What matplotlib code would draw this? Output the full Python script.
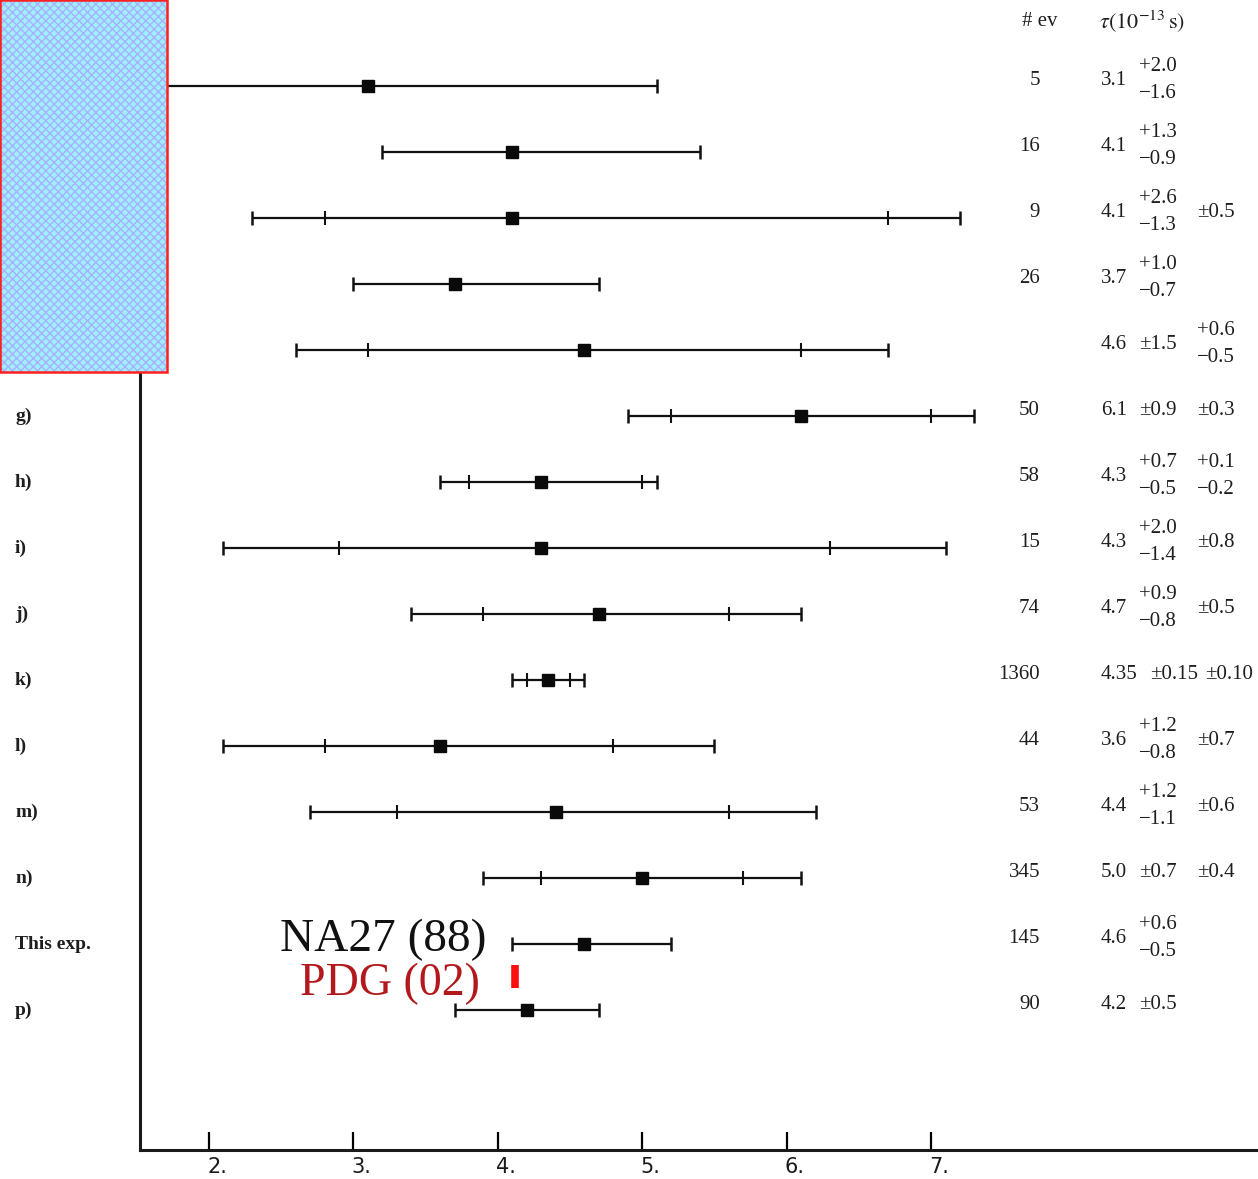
import matplotlib
matplotlib.use('Agg')
import matplotlib.pyplot as plt
from matplotlib.patches import Rectangle
from matplotlib.transforms import blended_transform_factory, ScaledTranslation

# ---------------- data ----------------
row_labels = ['b)', 'c)', 'd)', 'e)', 'f)', 'g)', 'h)', 'i)', 'j)', 'k)',
              'l)', 'm)', 'n)', 'This exp.', 'p)']
n_events = ['5', '16', '9', '26', '', '50', '58', '15', '74', '1360',
            '44', '53', '345', '145', '90']
tau_text = ['3.1', '4.1', '4.1', '3.7', '4.6', '6.1', '4.3', '4.3', '4.7',
            '4.35', '3.6', '4.4', '5.0', '4.6', '4.2']
tau = [3.1, 4.1, 4.1, 3.7, 4.6, 6.1, 4.3, 4.3, 4.7, 4.35, 3.6, 4.4, 5.0, 4.6, 4.2]
stat_lo = [1.6, 0.9, 1.3, 0.7, 1.5, 0.9, 0.5, 1.4, 0.8, 0.15, 0.8, 1.1, 0.7, 0.5, 0.5]
stat_hi = [2.0, 1.3, 2.6, 1.0, 1.5, 0.9, 0.7, 2.0, 0.9, 0.15, 1.2, 1.2, 0.7, 0.6, 0.5]
syst_lo = [0, 0, 0.5, 0, 0.5, 0.3, 0.2, 0.8, 0.5, 0.10, 0.7, 0.6, 0.4, 0, 0]
syst_hi = [0, 0, 0.5, 0, 0.6, 0.3, 0.1, 0.8, 0.5, 0.10, 0.7, 0.6, 0.4, 0, 0]
xticks = [2, 3, 4, 5, 6, 7]
xtick_labels = ['2.', '3.', '4.', '5.', '6.', '7.']
pdg_tau = 4.12
na27_label = 'NA27 (88)'
pdg_label = 'PDG (02)'
header_ev = '# ev'
header_tau = r'$\tau(10^{-13}\,\mathrm{s})$'

# ---------------- figure ----------------
W, H = 1258, 1179
plt.rcParams['mathtext.fontset'] = 'stix'
fig = plt.figure(figsize=(W / 100, H / 100), dpi=100)
ax = fig.add_axes([140 / W, 29 / H, 1118 / W, 1150 / H])
ax.set_xlim(1.522, 9.264)
ax.set_ylim(16.12, -1.303)

for s in ['top', 'right']:
    ax.spines[s].set_visible(False)
for s in ['left', 'bottom']:
    ax.spines[s].set_linewidth(2.2)
    ax.spines[s].set_color('#1a1a1a')
ax.set_yticks([])
ax.set_xticks(xticks)
ax.set_xticklabels(xtick_labels, fontsize=15, family='DejaVu Sans', color='#1a1a1a')
ax.tick_params(axis='x', direction='in', length=13, width=1.6, pad=5)
for lab in ax.get_xticklabels():
    lab.set_transform(lab.get_transform() + ScaledTranslation(8 / 100, 0, fig.dpi_scale_trans))

serif = ['Liberation Serif', 'DejaVu Serif']
tr = blended_transform_factory(fig.transFigure, ax.transData)
tcol = '#1e1e1e'
tfs = 15

def fmt(v, nd):
    return ('{:.%df}' % nd).format(v)

def put(px, y, s, ha='left', fs=tfs, **kw):
    ax.text(px / W, y, s, transform=tr, ha=ha, va='center', fontsize=fs,
            family=serif, color=tcol, **kw)

for i in range(len(tau)):
    y = i
    tlo = stat_lo[i] + syst_lo[i]
    thi = stat_hi[i] + syst_hi[i]
    ax.errorbar([tau[i]], [y], xerr=[[tlo], [thi]], fmt='none', ecolor='#111111',
                elinewidth=1.6, capsize=4.8, capthick=1.8, zorder=3)
    if syst_lo[i] > 0 or syst_hi[i] > 0:
        ax.errorbar([tau[i]], [y], xerr=[[stat_lo[i]], [stat_hi[i]]], fmt='none',
                    ecolor='#111111', elinewidth=0, capsize=4.8, capthick=1.5, zorder=3)
    ax.plot([tau[i]], [y], 's', color='#0a0a0a', ms=8.5, zorder=4)

    # row label
    put(15, y, row_labels[i], fs=14, fontweight='bold')

    # right-hand table
    ty = y - 0.09
    nd = len(tau_text[i]) - 2
    long_val = nd > 1
    if n_events[i]:
        put(1040, ty, n_events[i], ha='right')
    put(1101, ty, tau_text[i])
    sx = 1150 if long_val else 1139
    if abs(stat_lo[i] - stat_hi[i]) < 1e-9:
        put(sx, ty, '\u00b1' + fmt(stat_hi[i], nd))
    else:
        put(sx, ty - 0.2, '+' + fmt(stat_hi[i], nd))
        put(sx, ty + 0.21, '\u2212' + fmt(stat_lo[i], nd))
    if syst_lo[i] > 0 or syst_hi[i] > 0:
        yx = 1205 if long_val else 1197
        if abs(syst_lo[i] - syst_hi[i]) < 1e-9:
            put(yx, ty, '\u00b1' + fmt(syst_hi[i], nd))
        else:
            put(yx, ty - 0.2, '+' + fmt(syst_hi[i], nd))
            put(yx, ty + 0.21, '\u2212' + fmt(syst_lo[i], nd))

# headers
put(1040, -0.97, header_ev, ha='center', fs=15)
ax.text(1099 / W, -0.97, header_tau, transform=tr, ha='left', va='center',
        fontsize=16, color=tcol)

# NA27 / PDG labels
ax.text(487 / W, 12.93, na27_label, transform=tr, ha='right', va='center',
        fontsize=34, family=serif, color='#111111')
ax.text(480 / W, 13.6, pdg_label, transform=tr, ha='right', va='center',
        fontsize=33, family=serif, color='#b3191c')
ax.vlines(pdg_tau, 13.31, 13.66, colors='#ff1010', linewidth=5.5, zorder=5)

# blue box in top-left corner
box_kw = dict(transform=fig.transFigure, clip_on=False)
fig.patches.append(Rectangle((0, 1 - 372 / H), 167 / W, 372 / H, facecolor='#9ef0ff',
                             edgecolor='#a8b0ff', linewidth=0, hatch='xxxx', zorder=10, **box_kw))
fig.patches.append(Rectangle((0, 1 - 372 / H), 167 / W, 372 / H, facecolor='none',
                             edgecolor='#ff2020', linewidth=1.8, zorder=11, **box_kw))

fig.savefig('out.png', dpi=100)
